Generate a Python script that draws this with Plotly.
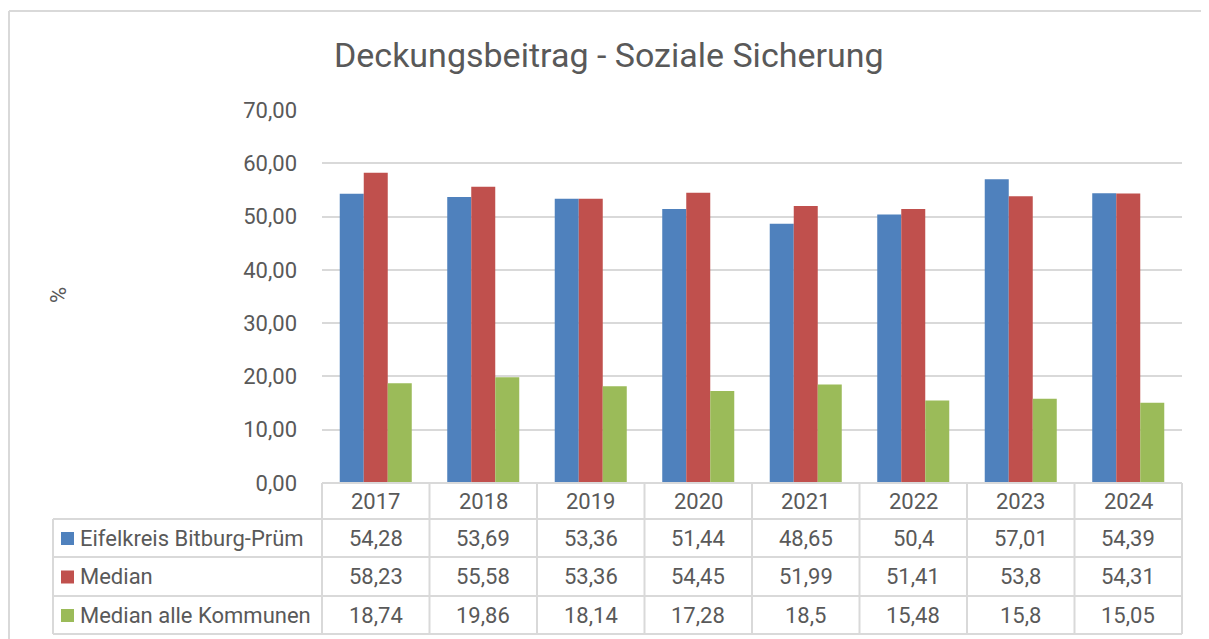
import plotly.graph_objects as go

years = ["2017", "2018", "2019", "2020", "2021", "2022", "2023", "2024"]
series_names = ["Eifelkreis Bitburg-Prüm", "Median", "Median alle Kommunen"]
eifelkreis = [54.28, 53.69, 53.36, 51.44, 48.65, 50.4, 57.01, 54.39]
median = [58.23, 55.58, 53.36, 54.45, 51.99, 51.41, 53.8, 54.31]
median_alle = [18.74, 19.86, 18.14, 17.28, 18.5, 15.48, 15.8, 15.05]
colors = ["#4F81BD", "#C0504D", "#9BBB59"]
title_text = "Deckungsbeitrag - Soziale Sicherung"
y_label = "%"

OFF = 8  # page body margin
W, H = 1209 - OFF, 639 - OFF
L, R, T, B = 322 - OFF, 1182 - OFF, 110 - OFF, 483 - OFF
pw, ph = R - L, B - T

def px_x(p):
    return (p - OFF - L) / pw

def px_y(p):
    return (B - (p - OFF)) / ph

FONT = "Roboto"
TXT = "#595959"
GRID = "#D9D9D9"
FS = 22

fig = go.Figure()
all_series = [eifelkreis, median, median_alle]
for name, vals, c in zip(series_names, all_series, colors):
    fig.add_trace(go.Bar(x=years, y=vals, name=name, marker=dict(color=c, line=dict(width=0))))

shapes = []
annotations = []

row_edges = [483, 519, 557, 596, 634]
line_style = dict(color=GRID, width=2)

shapes.append(dict(type="line", xref="paper", yref="paper", x0=0, x1=1,
                   y0=px_y(row_edges[0]), y1=px_y(row_edges[0]), line=line_style))
for e in row_edges[1:]:
    shapes.append(dict(type="line", xref="paper", yref="paper", x0=px_x(53), x1=1,
                       y0=px_y(e), y1=px_y(e), line=line_style))
for k in range(len(years) + 1):
    xp = k / len(years)
    shapes.append(dict(type="line", xref="paper", yref="paper", x0=xp, x1=xp,
                       y0=px_y(row_edges[0]), y1=px_y(row_edges[-1]), line=line_style))
shapes.append(dict(type="line", xref="paper", yref="paper", x0=px_x(53), x1=px_x(53),
                   y0=px_y(row_edges[1]), y1=px_y(row_edges[-1]), line=line_style))

shapes.append(dict(type="line", xref="paper", yref="paper", x0=px_x(9), x1=px_x(1220),
                   y0=px_y(11), y1=px_y(11), line=dict(color=GRID, width=2)))
shapes.append(dict(type="line", xref="paper", yref="paper", x0=px_x(9), x1=px_x(9),
                   y0=px_y(11), y1=px_y(650), line=dict(color=GRID, width=2)))

hy = px_y((row_edges[0] + row_edges[1]) / 2)
for i, yr in enumerate(years):
    annotations.append(dict(x=i, xref="x", y=hy, yref="paper", text=yr, showarrow=False,
                            font=dict(family=FONT, size=FS, color=TXT), xanchor="center", yanchor="middle"))

def fmt(v):
    return str(v).replace(".", ",")

for r, (name, vals, c) in enumerate(zip(series_names, all_series, colors)):
    cy_px = (row_edges[r + 1] + row_edges[r + 2]) / 2
    cy = px_y(cy_px)
    shapes.append(dict(type="rect", xref="paper", yref="paper", x0=px_x(61), x1=px_x(74),
                       y0=px_y(cy_px + 7), y1=px_y(cy_px - 6), fillcolor=c, line=dict(width=0)))
    annotations.append(dict(x=px_x(78), xref="paper", y=cy, yref="paper", text=name, showarrow=False,
                            font=dict(family=FONT, size=FS, color=TXT), xanchor="left", yanchor="middle"))
    for i, v in enumerate(vals):
        annotations.append(dict(x=i, xref="x", y=cy, yref="paper", text=fmt(v), showarrow=False,
                                font=dict(family=FONT, size=FS, color=TXT), xanchor="center", yanchor="middle"))

annotations.append(dict(x=px_x(609), xref="paper", y=px_y(55), yref="paper", text=title_text, showarrow=False,
                        font=dict(family=FONT, size=34, color=TXT), xanchor="center", yanchor="middle"))
annotations.append(dict(x=px_x(58), xref="paper", y=px_y(295), yref="paper", text=y_label, showarrow=False,
                        textangle=-90, font=dict(family=FONT, size=FS, color=TXT), xanchor="center", yanchor="middle"))

fig.update_layout(
    width=W, height=H,
    margin=dict(l=L, r=W - R, t=T, b=H - B, pad=0, autoexpand=False),
    paper_bgcolor="white", plot_bgcolor="white",
    barmode="group", bargap=0.33, bargroupgap=0,
    showlegend=False,
    separators=",.",
    shapes=shapes, annotations=annotations,
    xaxis=dict(type="category", range=[-0.5, len(years) - 0.5], showticklabels=False, showgrid=False,
               zeroline=False, showline=False, ticks=""),
    yaxis=dict(range=[0, 70], dtick=10, tickformat=".2f", showgrid=True, gridcolor=GRID, gridwidth=1.5,
               zeroline=False, showline=False, ticks="", ticklen=0,
               tickfont=dict(family=FONT, size=FS, color=TXT), ticklabelstandoff=24),
)

fig.write_html("out.html")
